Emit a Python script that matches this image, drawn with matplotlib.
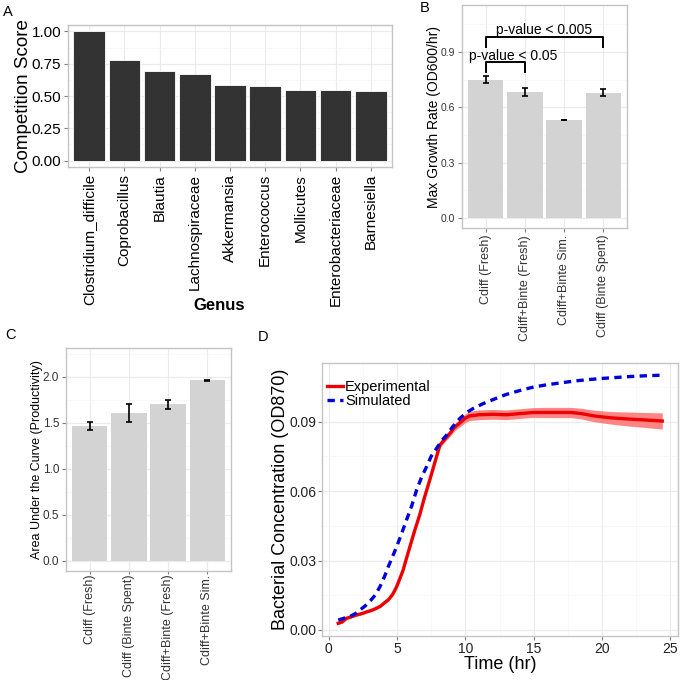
import matplotlib
matplotlib.use("Agg")
import matplotlib.pyplot as plt
import numpy as np
from matplotlib.ticker import MultipleLocator

plt.rcParams['font.family'] = ['Liberation Sans', 'DejaVu Sans']

# ---------------- data ----------------
genus = ["Clostridium_difficile", "Coprobacillus", "Blautia", "Lachnospiraceae",
         "Akkermansia", "Enterococcus", "Mollicutes", "Enterobacteriaceae", "Barnesiella"]
competition_score = [1.0, 0.78, 0.695, 0.672, 0.587, 0.581, 0.548, 0.547, 0.54]

growth_labels = ["Cdiff (Fresh)", "Cdiff+Binte (Fresh)", "Cdiff+Binte Sim.", "Cdiff (Binte Spent)"]
growth_rate = [0.75, 0.683, 0.531, 0.68]
growth_err = [0.02, 0.02, 0.001, 0.017]

auc_labels = ["Cdiff (Fresh)", "Cdiff (Binte Spent)", "Cdiff+Binte (Fresh)", "Cdiff+Binte Sim."]
auc_values = [1.466, 1.605, 1.70, 1.96]
auc_err = [0.045, 0.10, 0.05, 0.003]

exp_time = [0.71, 1.0, 1.3, 1.7, 2.05, 2.5, 2.78, 3.2, 3.5, 3.8, 4.1, 4.4, 4.7, 4.98,
            5.2, 5.46, 5.7, 5.95, 6.3, 6.68, 7.0, 7.41, 7.8, 8.15, 8.5, 8.88, 9.2,
            9.6, 10.0, 10.3, 11.0, 12.0, 13.0, 14.0, 15.0, 16.0, 17.0, 17.7, 18.5,
            19.4, 20.6, 21.8, 23.0, 24.4]
exp_od = [0.0029, 0.0035, 0.005, 0.0058, 0.0065, 0.0072, 0.0078, 0.0086, 0.0094,
          0.0103, 0.0118, 0.0132, 0.0155, 0.0187, 0.022, 0.026, 0.031, 0.036,
          0.043, 0.050, 0.057, 0.065, 0.073, 0.080, 0.0825, 0.085, 0.0875, 0.0895,
          0.0915, 0.0925, 0.093, 0.0932, 0.093, 0.0935, 0.094, 0.094, 0.094, 0.094,
          0.0935, 0.0925, 0.0917, 0.0912, 0.0908, 0.0903]
exp_sd = [0.0005, 0.0005, 0.0005, 0.0005, 0.0005, 0.0005, 0.0005, 0.0005, 0.0005,
          0.0005, 0.0005, 0.0006, 0.0006, 0.0006, 0.0007, 0.0007, 0.0008, 0.0008,
          0.0009, 0.0009, 0.001, 0.001, 0.0011, 0.0012, 0.0013, 0.0014, 0.0015,
          0.0017, 0.0019, 0.002, 0.0021, 0.0021, 0.0021, 0.0021, 0.0021, 0.0022,
          0.0022, 0.0022, 0.0023, 0.0025, 0.0027, 0.003, 0.0032, 0.0035]

sim_time = [0.71, 1.2, 1.56, 2.0, 2.29, 2.7, 3.0, 3.4, 3.76, 4.1, 4.37, 4.7, 4.98,
            5.3, 5.7, 6.1, 6.44, 6.8, 7.17, 7.5, 7.9, 8.3, 8.63, 9.1, 9.6, 10.1,
            10.6, 11.3, 12.0, 13.0, 14.0, 15.0, 16.0, 17.0, 18.0, 19.0, 20.0, 21.0,
            22.0, 23.0, 24.34]
sim_od = [0.0043, 0.0052, 0.0058, 0.0072, 0.0086, 0.0105, 0.0122, 0.015, 0.0187,
          0.0232, 0.0274, 0.032, 0.036, 0.041, 0.0475, 0.054, 0.0605, 0.066, 0.0706,
          0.075, 0.0785, 0.082, 0.0842, 0.088, 0.0914, 0.094, 0.0958, 0.0978, 0.0995,
          0.1018, 0.1035, 0.105, 0.106, 0.1068, 0.1076, 0.1082, 0.1087, 0.1091,
          0.1095, 0.1098, 0.1101]

# ---------------- style helpers ----------------
GRID_MAJOR = '#ebebeb'
GRID_MINOR = '#f5f5f5'
BORDER = '#c4c4c4'


def style_ax(ax, tick_size, tick_color='black', pad=2):
    ax.set_facecolor('white')
    for s in ax.spines.values():
        s.set_color(BORDER)
        s.set_linewidth(1.0)
    ax.tick_params(axis='both', which='major', length=3, width=0.8, color='#7f7f7f',
                   labelsize=tick_size, labelcolor=tick_color, pad=pad)
    ax.tick_params(axis='both', which='minor', length=0)
    ax.grid(True, which='major', color=GRID_MAJOR, linewidth=0.8, zorder=0)
    ax.grid(True, which='minor', color=GRID_MINOR, linewidth=0.5, zorder=0)
    ax.set_axisbelow(True)


fig = plt.figure(figsize=(6.8, 6.8), dpi=100)

# ---------------- Panel A ----------------
axA = fig.add_axes([68/680, 1-167/680, 324/680, 142/680])
style_ax(axA, 11)
xa = np.arange(1, len(genus)+1)
axA.bar(xa, competition_score, width=0.9, color='#333333', edgecolor='white', linewidth=0.6, zorder=2)
axA.set_xlim(0.4, len(genus)+0.6)
axA.set_ylim(-0.05, 1.05)
axA.set_xticks(xa)
axA.set_xticklabels(genus, rotation=90)
axA.set_yticks([0, 0.25, 0.5, 0.75, 1.0])
axA.set_yticklabels(['0.00', '0.25', '0.50', '0.75', '1.00'])
axA.yaxis.set_minor_locator(MultipleLocator(0.125))
axA.grid(False, axis='x', which='minor')
axA.set_ylabel('Competition Score', fontsize=13.5, labelpad=-0.5)
axA.set_xlabel('Genus', fontsize=12, fontweight='bold')
axA.xaxis.set_label_coords(0.466, -0.972)
axA.xaxis.label.set_va('center')

# ---------------- Panel B ----------------
axB = fig.add_axes([462/680, 1-228/680, 165/680, 223/680])
style_ax(axB, 7.5, '#333333')
xb = np.arange(1, len(growth_labels)+1)
axB.bar(xb, growth_rate, width=0.9, color='#d3d3d3', zorder=2)
axB.errorbar(xb, growth_rate, yerr=growth_err, fmt='none', ecolor='black',
             elinewidth=1.2, capsize=2.5, capthick=1.2, zorder=3)
axB.set_xlim(0.4, 4.6)
axB.set_ylim(-0.055, 1.155)
axB.set_xticks(xb)
axB.set_xticklabels(growth_labels, rotation=90, fontsize=9)
axB.set_yticks([0, 0.3, 0.6, 0.9])
axB.set_yticklabels(['0.0', '0.3', '0.6', '0.9'])
axB.yaxis.set_minor_locator(MultipleLocator(0.15))
axB.grid(False, axis='x', which='minor')
axB.set_ylabel('Max Growth Rate (OD600/hr)', fontsize=10, labelpad=-0.5)
# significance brackets
axB.plot([1, 1, 4, 4], [0.927, 0.98, 0.98, 0.927], color='black', lw=1.4, zorder=4)
axB.text(2.5, 1.017, 'p-value < 0.005', ha='center', va='center', fontsize=10, zorder=5)
axB.plot([1, 1, 2, 2], [0.792, 0.846, 0.846, 0.792], color='black', lw=1.4, zorder=4)
axB.text(1.7, 0.878, 'p-value < 0.05', ha='center', va='center', fontsize=10, zorder=5)

# ---------------- Panel C ----------------
axC = fig.add_axes([66/680, 1-571/680, 165/680, 223/680])
style_ax(axC, 8.5, '#333333')
axC.tick_params(axis='x', pad=0.5, length=2)
xc = np.arange(1, len(auc_labels)+1)
axC.bar(xc, auc_values, width=0.9, color='#d3d3d3', zorder=2)
axC.errorbar(xc, auc_values, yerr=auc_err, fmt='none', ecolor='black',
             elinewidth=1.2, capsize=2.5, capthick=1.2, zorder=3)
axC.set_xlim(0.4, 4.6)
axC.set_ylim(-0.11, 2.31)
axC.set_xticks(xc)
axC.set_xticklabels(auc_labels, rotation=90, fontsize=9.0)
axC.set_yticks([0, 0.5, 1.0, 1.5, 2.0])
axC.set_yticklabels(['0.0', '0.5', '1.0', '1.5', '2.0'])
axC.yaxis.set_minor_locator(MultipleLocator(0.25))
axC.grid(False, axis='x', which='minor')
axC.set_ylabel('Area Under the Curve (Productivity)', fontsize=9, labelpad=-0.5)

# ---------------- Panel D ----------------
axD = fig.add_axes([321.7/680, 1-636/680, 356.3/680, 273.3/680])
style_ax(axD, 10, '#222222', pad=1)
et = np.array(exp_time)
eo = np.array(exp_od)
es = np.array(exp_sd)
axD.fill_between(et, eo-es, eo+es, color='#ff7070', alpha=0.85, linewidth=0, zorder=2)
ln_exp, = axD.plot(et, eo, color='#ee0000', lw=2.4, zorder=3, label='Experimental')
ln_sim, = axD.plot(sim_time, sim_od, color='#0000dd', lw=2.4, ls=(0, (2.2, 1.6)),
                   zorder=4, label='Simulated')
axD.set_xlim(-0.5, 25.55)
axD.set_ylim(-0.0026, 0.1155)
axD.set_xticks([0, 5, 10, 15, 20, 25])
axD.set_yticks([0, 0.03, 0.06, 0.09])
axD.set_yticklabels(['0.00', '0.03', '0.06', '0.09'])
axD.xaxis.set_minor_locator(MultipleLocator(2.5))
axD.yaxis.set_minor_locator(MultipleLocator(0.015))
axD.set_xlabel('Time (hr)', fontsize=13, labelpad=0)
axD.set_ylabel('Bacterial Concentration (OD870)', fontsize=13, labelpad=0)
leg = axD.legend(handles=[ln_exp, ln_sim], loc='upper left', frameon=False,
                 fontsize=10.5, handlelength=1.1, handletextpad=0.15,
                 borderaxespad=0, borderpad=0.36, labelspacing=0.0,
                 bbox_to_anchor=(0.0, 1 - 12/273.3))

# ---------------- panel letters ----------------
fig.text(8/680, 1-12/680, 'A', fontsize=10.5, ha='center', va='center')
fig.text(425/680, 1-8/680, 'B', fontsize=10.5, ha='center', va='center')
fig.text(10/680, 1-335/680, 'C', fontsize=10.5, ha='center', va='center')
fig.text(263/680, 1-337/680, 'D', fontsize=10.5, ha='center', va='center')

fig.savefig('out.png', dpi=100, facecolor='white')
